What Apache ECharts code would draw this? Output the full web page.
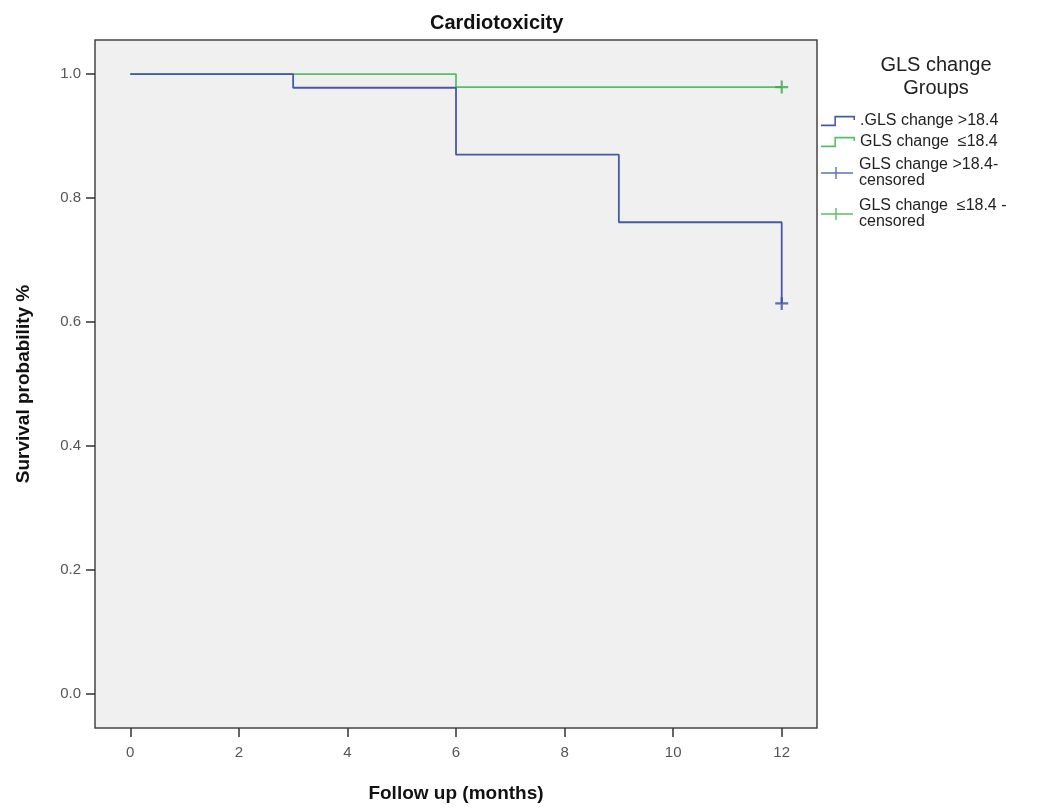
<!DOCTYPE html>
<html>
<head>
<meta charset="utf-8">
<script src="https://cdn.jsdelivr.net/npm/echarts@6/dist/echarts.min.js"></script>
<style>
  html, body { margin: 0; padding: 0; background: #fff; }
  #chart { width: 1041px; height: 808px; }
</style>
</head>
<body>
<div id="chart"></div>
<script>
// Kaplan-Meier steps
const highMonths = [0, 3, 6, 9, 12];
const highSurvival = [1.0, 0.978, 0.870, 0.761, 0.630];
const lowMonths = [0, 6, 12];
const lowSurvival = [1.0, 0.979, 0.979];
// censored points
const highCensored = [[12, 0.630]];
const lowCensored = [[12, 0.979]];

const xTicks = [0, 2, 4, 6, 8, 10, 12];
const yTicks = [0, 0.2, 0.4, 0.6, 0.8, 1.0];

const seriesNames = ['.GLS change >18.4', 'GLS change  \u226418.4', 'GLS change >18.4-\ncensored', 'GLS change  \u226418.4 -\ncensored'];

(function() {
  const chartDom = document.getElementById('chart');
  const chart = echarts.init(chartDom);

  const blue = '#4659a8';
  const green = '#55c065';
  const blueMark = '#3a4f9e';
  const greenMark = '#3aa84a';
  const font = 'Arial, "Liberation Sans", sans-serif';

  // legend glyphs: SPSS-style step and censor tick
  const stepIcon = 'path://M0,9.5H14.5V11H0Z M13,1H14.5V11H13Z M13,1H33V2.5H13Z M31.5,1H33V5H31.5Z';
  const censIcon = 'path://M0,5.3H32V6.7H0Z M14.3,0H15.7V12H14.3Z';
  const plusSym = 'path://M0,5H12V7H0Z M5,0H7V12H5Z';

  const pair = (xs, ys) => xs.map((x, i) => [x, ys[i]]);

  const legendTops = [113, 134, 157, 198];
  const legendIcons = [stepIcon, stepIcon, censIcon, censIcon];

  const option = {
    animation: false,
    backgroundColor: '#fff',
    title: [{
      text: 'Cardiotoxicity',
      left: 425,
      top: 8,
      textStyle: { fontFamily: font, fontSize: 20, fontWeight: 'bold', color: '#111' }
    }, {
      text: 'GLS change\nGroups',
      left: 931,
      top: 49,
      textAlign: 'center',
      textStyle: { fontFamily: font, fontSize: 20, fontWeight: 'normal', color: '#222', lineHeight: 23 }
    }],
    legend: seriesNames.map((name, i) => ({
      data: [{ name: name, icon: legendIcons[i] }],
      left: 821,
      top: legendTops[i],
      padding: 0,
      itemWidth: 34,
      itemHeight: 12,
      itemGap: 4,
      selectedMode: false,
      textStyle: { fontFamily: font, fontSize: 16, color: '#222', lineHeight: 16 }
    })),
    grid: {
      left: 95,
      right: 224,
      top: 40,
      bottom: 78,
      show: true,
      backgroundColor: '#f0f0f0',
      borderColor: '#444',
      borderWidth: 1.5
    },
    xAxis: {
      type: 'value',
      min: -0.65,
      max: 12.65,
      name: 'Follow up (months)',
      nameLocation: 'middle',
      nameGap: 56,
      nameTextStyle: { fontFamily: font, fontSize: 19, fontWeight: 'bold', color: '#111' },
      axisLine: { show: false, onZero: false },
      splitLine: { show: false },
      axisTick: { show: true, length: 9, customValues: xTicks, lineStyle: { color: '#333', width: 1.5 } },
      axisLabel: { customValues: xTicks, margin: 17, fontFamily: font, fontSize: 15, color: '#555' }
    },
    yAxis: {
      type: 'value',
      min: -0.055,
      max: 1.055,
      name: 'Survival probability %',
      nameLocation: 'middle',
      nameGap: 62,
      nameTextStyle: { fontFamily: font, fontSize: 19, fontWeight: 'bold', color: '#111' },
      axisLine: { show: false, onZero: false },
      splitLine: { show: false },
      axisTick: { show: true, length: 9, customValues: yTicks, lineStyle: { color: '#333', width: 1.5 } },
      axisLabel: {
        customValues: yTicks, margin: 14, fontFamily: font, fontSize: 15, color: '#555',
        formatter: v => v.toFixed(1)
      }
    },
    series: [{
      name: seriesNames[0],
      type: 'line',
      step: 'end',
      data: pair(highMonths, highSurvival),
      showSymbol: false,
      symbol: 'none',
      color: blue,
      lineStyle: { color: blue, width: 1.8 },
      z: 3
    }, {
      name: seriesNames[1],
      type: 'line',
      step: 'end',
      data: pair(lowMonths, lowSurvival),
      showSymbol: false,
      symbol: 'none',
      color: green,
      lineStyle: { color: green, width: 1.8 },
      z: 2
    }, {
      name: seriesNames[2],
      type: 'scatter',
      data: highCensored,
      symbol: plusSym,
      symbolSize: 13,
      color: blueMark,
      itemStyle: { color: blueMark },
      z: 4
    }, {
      name: seriesNames[3],
      type: 'scatter',
      data: lowCensored,
      symbol: plusSym,
      symbolSize: 13,
      color: greenMark,
      itemStyle: { color: greenMark },
      z: 4
    }]
  };

  chart.setOption(option);
})();
</script>
</body>
</html>
